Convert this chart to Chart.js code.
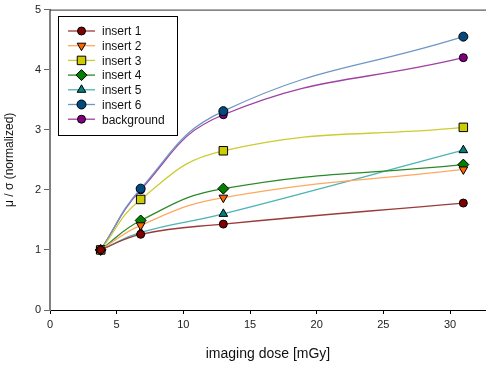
<!DOCTYPE html>
<html>
<head>
<meta charset="utf-8">
<script src="https://cdn.jsdelivr.net/npm/chart.js@4.4.0/dist/chart.umd.min.js"></script>
<style>
  html, body { margin: 0; padding: 0; background: #fff; overflow: hidden; }
  #wrap { width: 486px; height: 367px; }
</style>
</head>
<body>
<div id="wrap"><canvas id="chart" width="486" height="367"></canvas></div>
<script>
// dose values (mGy) and normalized mu/sigma per insert
const doses = [3.8, 6.8, 13, 31];
const insert1 = [1, 1.26, 1.43, 1.78];
const insert2 = [1, 1.41, 1.87, 2.34];
const insert3 = [1, 1.84, 2.65, 3.04];
const insert4 = [1, 1.49, 2.02, 2.42];
const insert5 = [1, 1.29, 1.60, 2.66];
const insert6 = [1, 2.02, 3.31, 4.55];
const background = [1, 2.00, 3.25, 4.20];
const xTicks = [0, 5, 10, 15, 20, 25, 30];
const yTicks = [0, 1, 2, 3, 4, 5];

const FONT = "'Liberation Sans', Arial, sans-serif";

function pts(ys) {
  return doses.map((d, i) => ({ x: d, y: ys[i] }));
}

function series(label, ys, line, fill, style, radius, rot) {
  return {
    label: label,
    data: pts(ys),
    borderColor: line,
    borderWidth: 1.3,
    pointBackgroundColor: fill,
    pointBorderColor: '#000',
    pointBorderWidth: 1,
    pointStyle: style,
    pointRadius: radius,
    pointRotation: rot || 0,
    tension: 0.45,
    fill: false,
    clip: false
  };
}

// legend box drawn inside the plot, line + marker per entry
const boxLegend = {
  id: 'boxLegend',
  afterDatasetsDraw(chart) {
    const ctx = chart.ctx;
    const area = chart.chartArea;
    ctx.save();
    // top frame line
    ctx.strokeStyle = '#333';
    ctx.lineWidth = 1;
    ctx.beginPath();
    ctx.moveTo(area.left, area.top + 0.5);
    ctx.lineTo(area.right, area.top + 0.5);
    ctx.stroke();

    ctx.fillStyle = '#fff';
    ctx.fillRect(58, 16, 119, 119);
    ctx.strokeStyle = '#000';
    ctx.strokeRect(58.5, 16.5, 119, 119);

    ctx.font = '12px ' + FONT;
    ctx.textBaseline = 'middle';
    chart.data.datasets.forEach((ds, i) => {
      const y = 31 + i * 14.7;
      ctx.strokeStyle = ds.borderColor;
      ctx.lineWidth = 1.3;
      ctx.beginPath();
      ctx.moveTo(68, y);
      ctx.lineTo(95, y);
      ctx.stroke();
      ctx.fillStyle = ds.pointBackgroundColor;
      ctx.strokeStyle = '#000';
      ctx.lineWidth = 1;
      Chart.helpers.drawPoint(ctx, {
        pointStyle: ds.pointStyle,
        radius: ds.pointRadius,
        rotation: ds.pointRotation,
        borderWidth: 1
      }, 81.5, y);
      ctx.fillStyle = '#111';
      ctx.fillText(ds.label, 102, y + 1);
    });
    ctx.restore();
  }
};

new Chart(document.getElementById('chart'), {
  type: 'line',
  data: {
    datasets: [
      series('insert 1', insert1, '#9c3a3a', '#800000', 'circle', 4),
      series('insert 2', insert2, '#ffa860', '#ff6600', 'triangle', 5, 180),
      series('insert 3', insert3, '#cccc33', '#cccc00', 'rect', 6),
      series('insert 4', insert4, '#2a8a2a', '#008000', 'rectRot', 5.5),
      series('insert 5', insert5, '#4db3b3', '#008080', 'triangle', 5),
      series('insert 6', insert6, '#6f97c4', '#004a80', 'circle', 4.5),
      series('background', background, '#a040a0', '#800080', 'circle', 4)
    ]
  },
  options: {
    responsive: false,
    animation: false,
    layout: { autoPadding: false, padding: { top: 8, right: 0, left: 0, bottom: 0 } },
    plugins: {
      legend: { display: false },
      tooltip: { enabled: false }
    },
    scales: {
      x: {
        type: 'linear',
        min: 0,
        max: 32.7,
        afterBuildTicks: s => { s.ticks = xTicks.map(v => ({ value: v })); },
        afterFit: s => { s.height = 57; s.paddingRight = 0; s.paddingLeft = 0; },
        grid: { drawOnChartArea: false, tickLength: 4, color: '#000' },
        border: { color: '#000', width: 1 },
        ticks: { color: '#222', font: { family: FONT, size: 11 }, padding: 4, maxRotation: 0 },
        title: {
          display: true,
          text: 'imaging dose [mGy]',
          color: '#111',
          font: { family: FONT, size: 14 },
          padding: { top: 6 }
        }
      },
      y: {
        min: 0,
        max: 5,
        afterBuildTicks: s => { s.ticks = yTicks.map(v => ({ value: v })); },
        afterFit: s => { s.width = 50; },
        grid: { drawOnChartArea: false, tickLength: 6, color: '#666' },
        border: { color: '#808080', width: 2 },
        ticks: { color: '#222', font: { family: FONT, size: 11 }, padding: 3 },
        title: {
          display: true,
          text: 'μ / σ (normalized)',
          color: '#111',
          font: { family: FONT, size: 12 },
          padding: { top: 2, bottom: 4 }
        }
      }
    }
  },
  plugins: [boxLegend]
});
</script>
</body>
</html>
